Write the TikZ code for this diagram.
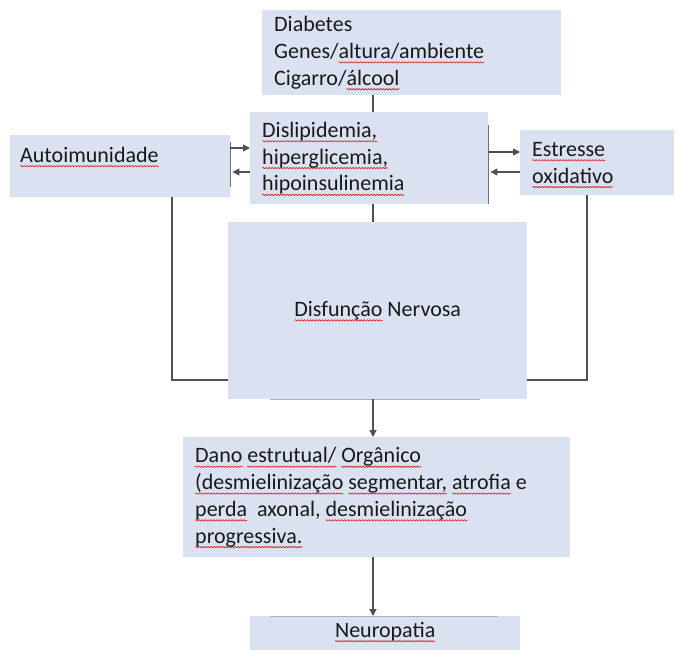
\documentclass[tikz,border=0pt]{standalone}
\usepackage{fontspec}
\setmainfont{Carlito}
\usetikzlibrary{arrows.meta,decorations.pathmorphing}
\definecolor{boxfill}{RGB}{218,226,241}
\definecolor{linegray}{RGB}{80,80,80}
\newsavebox\sqbox
\newlength\sqlen
\newcommand\sq[1]{\sbox\sqbox{#1}\setlength\sqlen{\wd\sqbox}\leavevmode\rlap{\tikz[overlay,baseline=0pt]\draw[red!85!black, line width=0.5pt, decorate, decoration={snake,amplitude=0.7pt,segment length=3pt}] (0pt,-4pt) -- (\sqlen,-4pt);}\usebox\sqbox}
\tikzset{
  box/.style={fill=boxfill, draw=none, inner xsep=12pt, inner ysep=0pt,
    font=\fontsize{22}{26.8}\selectfont, text=black!90, anchor=north west},
  conn/.style={draw=linegray, line width=1.3pt},
  arr/.style={conn, -{Triangle[length=7pt,width=7pt]}},
  edgeline/.style={draw=linegray!80, line width=1.6pt}
}
\begin{document}
\begin{tikzpicture}[x=1pt,y=-1pt]
\useasboundingbox (0,0) rectangle (681,650);
% boxes
\node[box, minimum width=299pt, minimum height=85pt, text width=275pt, align=flush left] (top) at (262,10)
  {Diabetes\\Genes/\sq{altura/ambiente}\\Cigarro/\sq{álcool}};
\node[box, minimum width=238pt, minimum height=92pt, text width=214pt, align=flush left] (dis) at (250,112)
  {\sq{Dislipidemia,}\\\sq{hiperglicemia,}\\\sq{hipoinsulinemia}};
\node[box, minimum width=216pt, minimum height=62pt, text width=200pt, inner xsep=10pt, inner ysep=8pt, text height=19pt, text depth=27pt, align=flush left] (auto) at (10,135)
  {\sq{Autoimunidade}};
\node[box, minimum width=150pt, minimum height=65pt, text width=130pt, align=flush left] (est) at (520,130)
  {\sq{Estresse}\\\sq{oxidativo}};
\node[box, minimum width=299pt, minimum height=177pt, align=center] (nerv) at (228,222)
  {\sq{Disfunção} Nervosa};
\node[box, minimum width=387pt, minimum height=120pt, text width=363pt, align=flush left] (dano) at (183,437)
  {\sq{Dano} \sq{estrutual/} \sq{Orgânico}\\\sq{(desmielinização} \sq{segmentar,} \sq{atrofia} e\\\sq{perda}\ \ axonal, \sq{desmielinização}\\\sq{progressiva.}};
\node[box, minimum width=270pt, minimum height=34pt, text height=21pt, text depth=13pt, inner ysep=0pt, align=center] (neuro) at (250,616)
  {\sq{Neuropatia}};
% darker edges
\draw[edgeline] ([yshift=-7pt]auto.north east) -- ([yshift=10pt]auto.south east);
\draw[edgeline] ([yshift=-13pt]dis.north east) -- (dis.south east);
\draw[draw=linegray!45, line width=1pt] ([xshift=42pt]nerv.south west) -- ([xshift=-47pt]nerv.south east);
\draw[draw=linegray!45, line width=1pt] ([xshift=20pt]neuro.north west) -- ([xshift=-22pt]neuro.north east);
% vertical connectors
\draw[conn] (top.south -| 373,0) -- (dis.north -| 373,0);
\draw[conn] (dis.south -| 373,0) -- (nerv.north -| 373,0);
\draw[arr] (nerv.south -| 373,0) -- (dano.north -| 373,0);
\draw[arr] (dano.south -| 373,0) -- (neuro.north -| 373,0);
% side arrows
\draw[arr] (auto.east |- 0,148) -- (dis.west |- 0,148);
\draw[arr] (dis.west |- 0,172) -- ([xshift=2pt]auto.east |- 0,172);
\draw[arr] (dis.east |- 0,152) -- (est.west |- 0,152);
\draw[arr] (est.west |- 0,172) -- ([xshift=2pt]dis.east |- 0,172);
% loops
\coordinate (lc) at (172,380);
\coordinate (rc) at (587,380);
\draw[conn] (auto.south -| lc) -- (lc) -- (nerv.west |- lc);
\draw[conn] (est.south -| rc) -- (rc) -- (nerv.east |- rc);
\end{tikzpicture}
\end{document}
